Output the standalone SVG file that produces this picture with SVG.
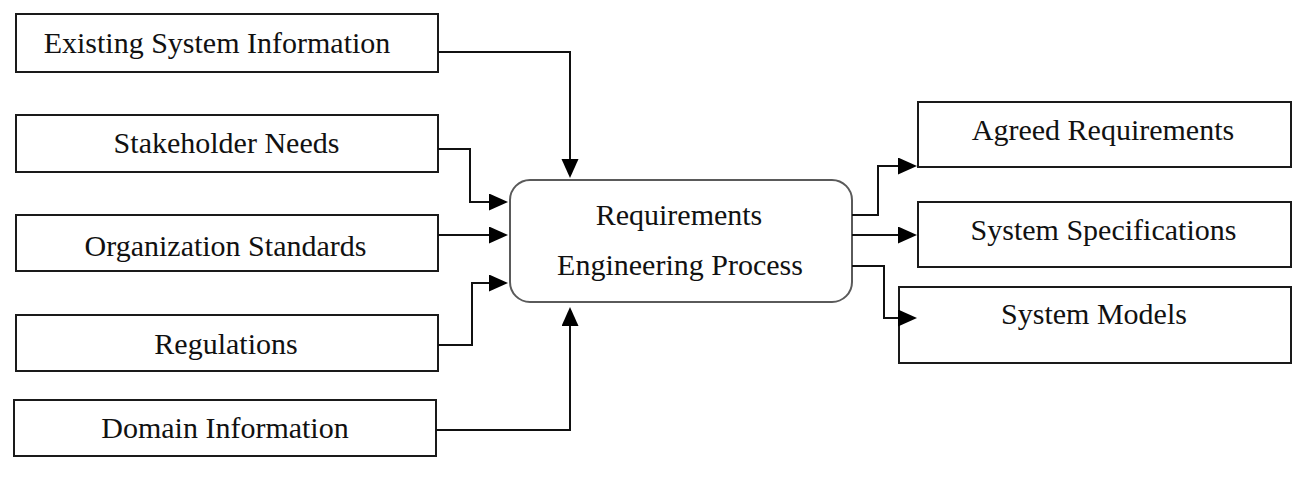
<svg xmlns="http://www.w3.org/2000/svg" width="1303" height="477" viewBox="0 0 1303 477">
<style>
  .box { fill: #ffffff; stroke: #1a1a1a; stroke-width: 2; }
  .proc { fill: #ffffff; stroke: #5a5a5a; stroke-width: 2; }
  .lbl { font-family: "Liberation Serif", "Times New Roman", serif; font-size: 30px; fill: #111111; text-anchor: middle; }
  .conn { fill: none; stroke: #111111; stroke-width: 2; }
</style>
<defs>
  <marker id="arr" markerUnits="userSpaceOnUse" markerWidth="20" markerHeight="18" viewBox="0 0 20 18" refX="15" refY="8.5" orient="auto">
    <path d="M0,0 L19,8.5 L0,17 z" fill="#000000"/>
  </marker>
</defs>
<rect width="1303" height="477" fill="#ffffff"/>

<g id="existing-system-information">
  <rect class="box" x="16" y="14" width="422" height="58"/>
  <text class="lbl" x="217" y="53">Existing System Information</text>
</g>
<g id="stakeholder-needs">
  <rect class="box" x="16" y="115" width="422" height="57"/>
  <text class="lbl" x="226.5" y="153">Stakeholder Needs</text>
</g>
<g id="organization-standards">
  <rect class="box" x="16" y="215" width="422" height="56"/>
  <text class="lbl" x="225.5" y="256">Organization Standards</text>
</g>
<g id="regulations">
  <rect class="box" x="16" y="315" width="422" height="56"/>
  <text class="lbl" x="226" y="354">Regulations</text>
</g>
<g id="domain-information">
  <rect class="box" x="14" y="400" width="422" height="56"/>
  <text class="lbl" x="225" y="438">Domain Information</text>
</g>

<g id="requirements-engineering-process">
  <rect class="proc" x="510" y="180" width="342" height="122" rx="20" ry="20"/>
  <text class="lbl" x="679" y="225">Requirements</text>
  <text class="lbl" x="680" y="275">Engineering Process</text>
</g>

<g id="agreed-requirements">
  <rect class="box" x="918" y="102" width="373" height="65"/>
  <text class="lbl" x="1103" y="140">Agreed Requirements</text>
</g>
<g id="system-specifications">
  <rect class="box" x="918" y="202" width="373" height="65"/>
  <text class="lbl" x="1103.5" y="240">System Specifications</text>
</g>
<g id="system-models">
  <rect class="box" x="899" y="287" width="392" height="76"/>
  <text class="lbl" x="1094" y="324">System Models</text>
</g>

<g id="connectors">
  <polyline class="conn" points="438,52 570,52 570,174" marker-end="url(#arr)"/>
  <polyline class="conn" points="438,149 470,149 470,202 504,202" marker-end="url(#arr)"/>
  <polyline class="conn" points="438,235 504,235" marker-end="url(#arr)"/>
  <polyline class="conn" points="438,345 472,345 472,283 504,283" marker-end="url(#arr)"/>
  <polyline class="conn" points="436,430 570,430 570,311" marker-end="url(#arr)"/>
  <polyline class="conn" points="852,215 878,215 878,166 913,166" marker-end="url(#arr)"/>
  <polyline class="conn" points="852,235 913,235" marker-end="url(#arr)"/>
  <polyline class="conn" points="852,266 884,266 884,318 913,318" marker-end="url(#arr)"/>
</g>
</svg>
